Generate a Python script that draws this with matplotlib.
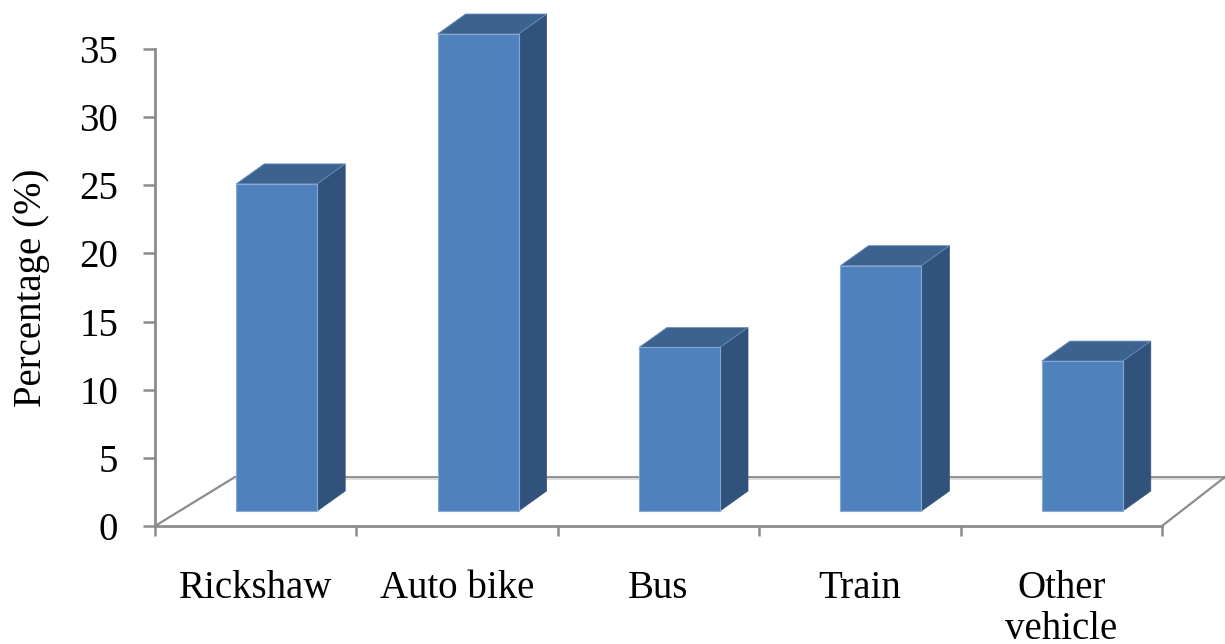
import matplotlib.pyplot as plt
from matplotlib.patches import Polygon

# Dados: participação de cada meio de transporte (%)
categories = ['Rickshaw', 'Auto bike', 'Bus', 'Train', 'Other\nvehicle']
values = [24, 35, 12, 18, 11]
y_ticks = [0, 5, 10, 15, 20, 25, 30, 35]

plt.rcParams['font.family'] = ['Liberation Serif', 'DejaVu Serif']

fig = plt.figure(figsize=(12.25, 6.44), dpi=100)
ax = fig.add_axes([155 / 1225, 118 / 644, 1007 / 1225, 477 / 644])
ax.set_xlim(0, len(categories))
ax.set_ylim(0, 35)

# conversão de pixels para unidades dos dados
px_x = len(categories) / 1007
px_y = 35 / 477

grey = '#8c8c8c'
front_c = '#4f81bd'
top_c = '#3c6290'
side_c = '#31527a'

# piso em perspectiva
floor_dy = 49 * px_y
left_dx = 80 * px_x
right_dx = 63 * px_x
n = len(categories)
ax.plot([0, left_dx], [0, floor_dy], color=grey, lw=1.6, clip_on=False, zorder=1)
ax.plot([left_dx, n + right_dx], [floor_dy, floor_dy], color=grey, lw=2.0,
        clip_on=False, zorder=1)
ax.plot([left_dx, n + right_dx], [floor_dy - 2 * px_y] * 2, color='#dcdcdc', lw=1.5,
        clip_on=False, zorder=1)
ax.plot([n, n + right_dx], [0, floor_dy], color=grey, lw=1.6, clip_on=False, zorder=1)

# colunas 3D
width = 81 * px_x
shift = 21 * px_x
base = 15 * px_y
depth_x = 28 * px_x
depth_y = 20 * px_y
for i, v in enumerate(values):
    x0 = i + 0.5 + shift - width / 2
    x1 = x0 + width
    y0 = base
    y1 = base + v
    front = Polygon([(x0, y0), (x1, y0), (x1, y1), (x0, y1)], closed=True,
                    facecolor=front_c, edgecolor='#86a8d6', lw=0.8,
                    clip_on=False, zorder=3)
    top = Polygon([(x0, y1), (x1, y1), (x1 + depth_x, y1 + depth_y),
                   (x0 + depth_x, y1 + depth_y)], closed=True,
                  facecolor=top_c, edgecolor='#6d8fbd', lw=0.6,
                  clip_on=False, zorder=3)
    side = Polygon([(x1, y0), (x1 + depth_x, y0 + depth_y),
                    (x1 + depth_x, y1 + depth_y), (x1, y1)], closed=True,
                   facecolor=side_c, edgecolor=side_c, lw=0.5,
                   clip_on=False, zorder=3)
    ax.add_patch(side)
    ax.add_patch(top)
    ax.add_patch(front)

# eixos
for s in ['top', 'right']:
    ax.spines[s].set_visible(False)
for s in ['left', 'bottom']:
    ax.spines[s].set_color(grey)
    ax.spines[s].set_linewidth(2.0)
    ax.spines[s].set_zorder(2)

ax.set_yticks(y_ticks)
ax.tick_params(axis='y', direction='out', length=8.6, width=1.8, color=grey,
               labelsize=28, pad=18)

ax.set_xticks([i + 0.5 for i in range(n)])
ax.set_xticklabels(categories, fontsize=28, linespacing=1.12)
ax.set_xticks(range(n + 1), minor=True)
ax.tick_params(axis='x', which='major', length=0, pad=32)
ax.tick_params(axis='x', which='minor', direction='out', length=7.5, width=1.8,
               color=grey)

ax.set_ylabel('Percentage (%)', fontsize=28)
ax.yaxis.set_label_coords(-0.104, 0.5)

fig.savefig('out.png', dpi=100)
